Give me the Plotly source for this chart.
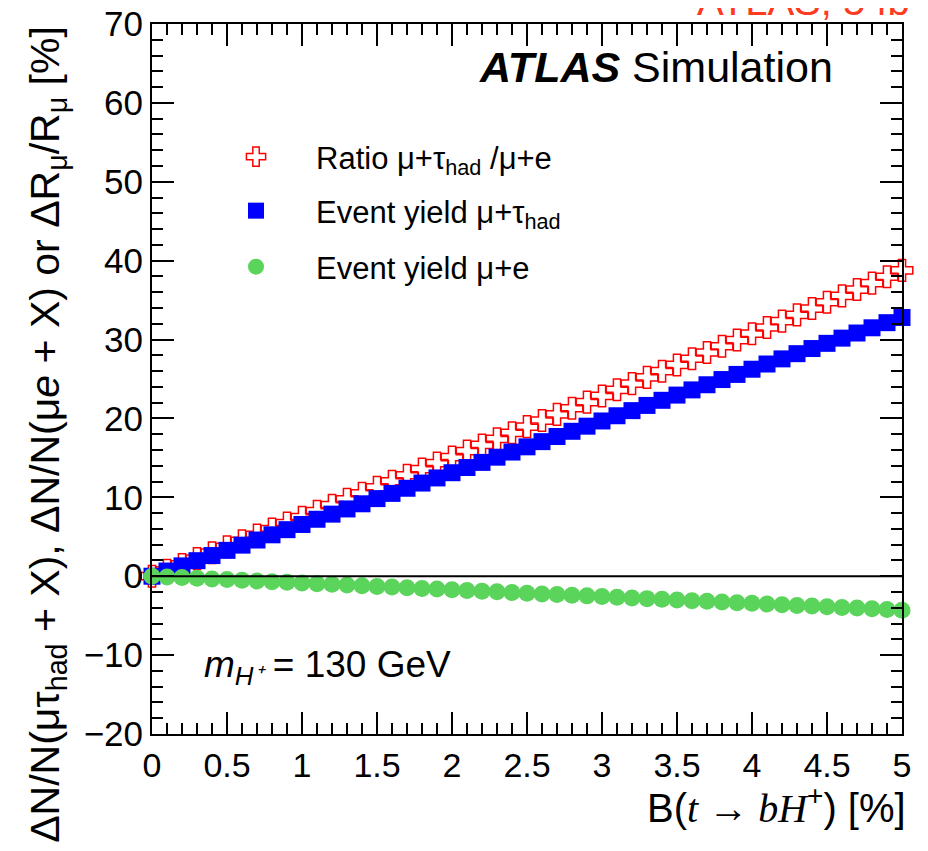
import plotly.graph_objects as go

# Data
branching = [round(0.1 * i, 1) for i in range(51)]  # B(t->bH+) [%]
ratio_mutau_mue = [0.00, 0.74, 1.49, 2.23, 2.98, 3.73, 4.48, 5.23, 5.98, 6.73,
                   7.48, 8.24, 9.00, 9.76, 10.52, 11.28, 12.04, 12.80, 13.57, 14.33,
                   15.10, 15.87, 16.64, 17.41, 18.18, 18.96, 19.73, 20.51, 21.29, 22.07,
                   22.85, 23.63, 24.42, 25.20, 25.99, 26.78, 27.57, 28.36, 29.15, 29.94,
                   30.74, 31.53, 32.33, 33.13, 33.93, 34.73, 35.54, 36.34, 37.15, 37.96,
                   38.77]
yield_mutau = [0.00, 0.66, 1.31, 1.97, 2.62, 3.28, 3.94, 4.59, 5.25, 5.90,
               6.56, 7.22, 7.87, 8.53, 9.18, 9.84, 10.50, 11.15, 11.81, 12.46,
               13.12, 13.78, 14.43, 15.09, 15.74, 16.40, 17.06, 17.71, 18.37, 19.02,
               19.68, 20.34, 20.99, 21.65, 22.30, 22.96, 23.62, 24.27, 24.93, 25.58,
               26.24, 26.90, 27.55, 28.21, 28.86, 29.52, 30.18, 30.83, 31.49, 32.14,
               32.80]
yield_mue = [0.00, -0.09, -0.17, -0.26, -0.34, -0.43, -0.52, -0.60, -0.69, -0.77,
             -0.86, -0.95, -1.03, -1.12, -1.20, -1.29, -1.38, -1.46, -1.55, -1.63,
             -1.72, -1.81, -1.89, -1.98, -2.06, -2.15, -2.24, -2.32, -2.41, -2.49,
             -2.58, -2.67, -2.75, -2.84, -2.92, -3.01, -3.10, -3.18, -3.27, -3.35,
             -3.44, -3.53, -3.61, -3.70, -3.78, -3.87, -3.96, -4.04, -4.13, -4.21,
             -4.30]

x_ticks = [0, 0.5, 1, 1.5, 2, 2.5, 3, 3.5, 4, 4.5, 5]
x_ticklabels = ["0", "0.5", "1", "1.5", "2", "2.5", "3", "3.5", "4", "4.5", "5"]
y_ticks = [-20, -10, 0, 10, 20, 30, 40, 50, 60, 70]

FONT = "Liberation Sans, Arial, Helvetica, sans-serif"

fig = go.Figure()
fig.add_trace(go.Scatter(
    x=branching, y=ratio_mutau_mue, mode="markers",
    name="Ratio μ+τ<sub>had</sub> /μ+e", legend="legend",
    marker=dict(symbol="cross-open", size=18, color="red", line=dict(color="red", width=1.5)),
    cliponaxis=False))
fig.add_trace(go.Scatter(
    x=branching, y=yield_mutau, mode="markers",
    name="Event yield μ+τ<sub>had</sub>", legend="legend2",
    marker=dict(symbol="square", size=17, color="#0000ff", line=dict(width=0)),
    cliponaxis=False))
fig.add_trace(go.Scatter(
    x=branching, y=yield_mue, mode="markers",
    name="Event yield μ+e", legend="legend3",
    marker=dict(symbol="circle", size=17, color="#5ad45a", line=dict(width=0)),
    cliponaxis=False))

axis_common = dict(
    showgrid=False, showline=True, linecolor="black", linewidth=2,
    mirror="allticks", ticks="inside", tickcolor="black", tickwidth=1.5,
    ticklen=22, zeroline=False, ticklabeloverflow="allow", automargin=False,
)

fig.update_xaxes(
    range=[0, 5], tickvals=x_ticks, ticktext=x_ticklabels,
    tickfont=dict(family=FONT, size=34, color="black"),
    minor=dict(dtick=0.1, ticklen=11, ticks="inside", tickcolor="black", tickwidth=1.5, showgrid=False),
    **axis_common)
fig.update_yaxes(
    range=[-20, 70], tickvals=y_ticks,
    tickfont=dict(family=FONT, size=35, color="black"),
    minor=dict(dtick=2, ticklen=11, ticks="inside", tickcolor="black", tickwidth=1.5, showgrid=False),
    **axis_common)

# horizontal line at zero
fig.add_hline(y=0, line=dict(color="black", width=2))

annotations = [
    dict(text="<b><i>ATLAS</i></b> Simulation", x=0.911, y=0.939, xref="paper", yref="paper",
         xanchor="right", yanchor="middle", showarrow=False,
         font=dict(family=FONT, size=43, color="black")),
    dict(text="<i>m</i><sub><i>H⁺</i></sub> = 130 GeV", x=0.0667, y=0.0944, xref="paper", yref="paper",
         xanchor="left", yanchor="middle", showarrow=False,
         font=dict(family=FONT, size=37, color="black")),
    dict(text="B(<span style='font-family:Liberation Serif'><i>t</i> → <i>bH</i></span><sup>+</sup>) [%]",
         x=1.008, y=-0.1, xref="paper", yref="paper",
         xanchor="right", yanchor="middle", showarrow=False,
         font=dict(family=FONT, size=40, color="black")),
    dict(text="ΔN/N(μτ<sub>had</sub> + X), ΔN/N(μ<i>e</i> + X) or ΔR<sub>μ</sub>/R<sub>μ</sub> [%]",
         x=-0.139, y=0.4225, xref="paper", yref="paper", textangle=-90,
         xanchor="center", yanchor="middle", showarrow=False,
         font=dict(family=FONT, size=41, color="black")),
    dict(text="ATLAS, 5 fb<sup>-1</sup>", x=0.724, y=1.036, xref="paper", yref="paper",
         xanchor="left", yanchor="middle", showarrow=False,
         font=dict(family=FONT, size=40, color="#ff3b1f")),
]

legend_common = dict(x=0.0587, xanchor="left", yanchor="middle",
                     bgcolor="rgba(0,0,0,0)", borderwidth=0,
                     font=dict(family=FONT, size=31, color="black"),
                     itemwidth=110)

fig.update_layout(
    width=920, height=843,
    margin=dict(l=144, r=26, t=16, b=117, autoexpand=False),
    paper_bgcolor="white", plot_bgcolor="white",
    font=dict(family=FONT, color="black"),
    annotations=annotations,
    showlegend=True,
    legend=dict(y=(734 - 157) / 710, **legend_common),
    legend2=dict(y=(734 - 211) / 710, **legend_common),
    legend3=dict(y=(734 - 267) / 710, **legend_common),
)

fig.write_html("out.html")
